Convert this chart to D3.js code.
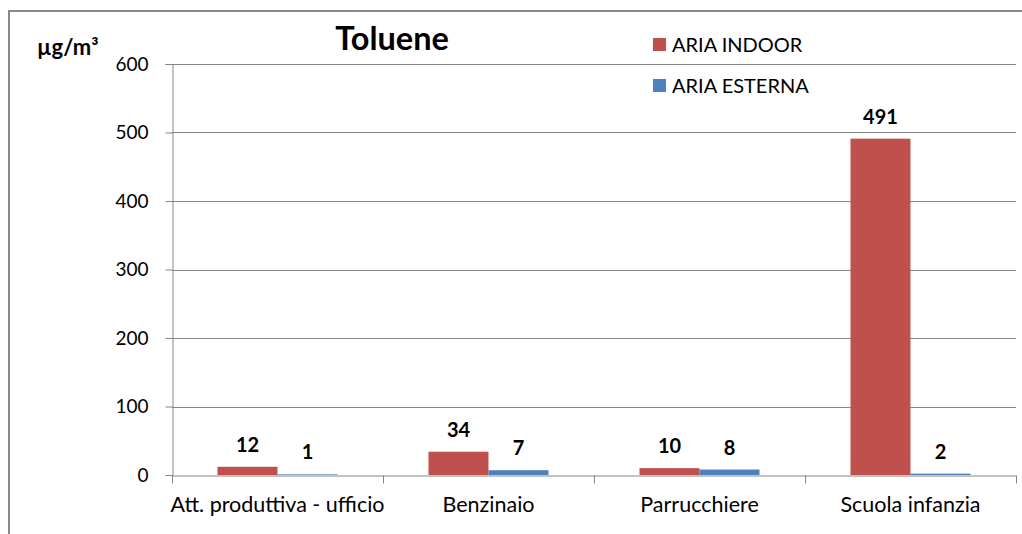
<!DOCTYPE html>
<html>
<head>
<meta charset="utf-8">
<script src="https://cdn.jsdelivr.net/npm/d3@7"></script>
<style>
  body { margin: 0; background: #fff; }
  text { font-family: Lato, "Open Sans", sans-serif; fill: #000; }
</style>
</head>
<body>
<svg id="chart" width="1022" height="534"></svg>
<script>
// data
const categories = ['Att. produttiva - ufficio', 'Benzinaio', 'Parrucchiere', 'Scuola infanzia']
const seriesNames = ['ARIA INDOOR', 'ARIA ESTERNA']
const indoor = [12, 34, 10, 491]
const esterna = [1, 7, 8, 2]
const yTicks = [0, 100, 200, 300, 400, 500, 600]
const colors = ['#C0504D', '#4F81BD']

const svg = d3.select('#chart')
const plotLeft = 172, plotRight = 1016, plotTop = 64, plotBottom = 475

// outer frame (top and left edges visible)
svg.append('path')
  .attr('d', `M9,534 L9,11 L1022,11`)
  .attr('fill', 'none')
  .attr('stroke', '#888')
  .attr('stroke-width', 2)

const x = d3.scaleBand().domain(categories).range([plotLeft, plotRight]).paddingInner(0).paddingOuter(0)
const x1 = d3.scaleBand().domain(seriesNames).range([0, x.bandwidth()]).paddingInner(0).paddingOuter(0.758)
const y = d3.scaleLinear().domain([0, 600]).range([plotBottom, plotTop])

// gridlines
svg.append('g')
  .selectAll('line')
  .data(yTicks.filter(d => d > 0))
  .join('line')
  .attr('x1', plotLeft).attr('x2', plotRight)
  .attr('y1', d => Math.round(y(d)) + 0.5).attr('y2', d => Math.round(y(d)) + 0.5)
  .attr('stroke', '#868686')

// y axis
const yAxis = svg.append('g')
  .attr('transform', `translate(${plotLeft + 0.5},0)`)
  .call(d3.axisLeft(y).tickValues(yTicks).tickSize(7).tickPadding(17))
yAxis.select('.domain').attr('stroke', '#868686')
yAxis.selectAll('.tick line').attr('stroke', '#868686')
yAxis.selectAll('.tick text').style('font-size', '19px').attr('fill', '#000')

// x axis
const xAxis = svg.append('g')
  .attr('transform', `translate(0,${plotBottom + 0.5})`)
  .call(d3.axisBottom(x).tickSize(0).tickPadding(21))
xAxis.select('.domain').attr('stroke', '#868686')
xAxis.selectAll('.tick text').style('font-size', '21.5px').attr('fill', '#000')
xAxis.selectAll('.sep')
  .data([0, 1, 2, 3, 4])
  .join('line')
  .attr('class', 'sep')
  .attr('x1', i => Math.round(plotLeft + i * x.bandwidth()) + 0.5)
  .attr('x2', i => Math.round(plotLeft + i * x.bandwidth()) + 0.5)
  .attr('y1', 0).attr('y2', 8)
  .attr('stroke', '#868686')

// bars
const rows = categories.map((c, i) => ({cat: c, values: [indoor[i], esterna[i]]}))
const groups = svg.append('g')
  .selectAll('g')
  .data(rows)
  .join('g')
  .attr('transform', d => `translate(${x(d.cat)},0)`)

groups.selectAll('rect')
  .data(d => d.values.map((v, j) => ({name: seriesNames[j], v, j})))
  .join('rect')
  .attr('x', d => x1(d.name))
  .attr('width', x1.bandwidth())
  .attr('y', d => y(d.v))
  .attr('height', d => y(0) - y(d.v))
  .attr('fill', d => colors[d.j])

groups.selectAll('text.lbl')
  .data(d => d.values.map((v, j) => ({name: seriesNames[j], v, j})))
  .join('text')
  .attr('class', 'lbl')
  .attr('x', d => x1(d.name) + x1.bandwidth() / 2)
  .attr('y', d => y(d.v) - 15)
  .attr('text-anchor', 'middle')
  .style('font-size', '20px')
  .style('font-weight', 'bold')
  .text(d => d.v)

// title and unit
svg.append('text')
  .attr('x', 392).attr('y', 50)
  .attr('text-anchor', 'middle')
  .style('font-size', '32.5px')
  .style('font-weight', 'bold')
  .text('Toluene')

svg.append('text')
  .attr('x', 37).attr('y', 55)
  .style('font-size', '22px')
  .style('font-weight', 'bold')
  .text('µg/m³')

// legend
const legend = svg.append('g')
  .selectAll('g')
  .data(seriesNames)
  .join('g')
  .attr('transform', (d, i) => `translate(653,${38 + i * 41})`)
legend.append('rect')
  .attr('width', 13).attr('height', 13)
  .attr('fill', (d, i) => colors[i])
legend.append('text')
  .attr('x', 19).attr('y', 14)
  .style('font-size', '20px')
  .text(d => d)
</script>
</body>
</html>
